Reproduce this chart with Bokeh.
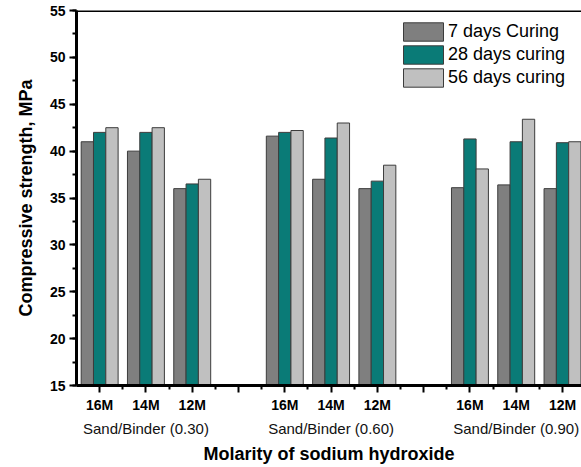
from bokeh.plotting import figure
from bokeh.models import (ColumnDataSource, FixedTicker, SingleIntervalTicker, LinearAxis,
                          Span, Range1d, Legend)
from bokeh.embed import file_html
from bokeh.resources import INLINE

# ---- data ----
molarity = ["16M", "14M", "12M"]
groups = ["Sand/Binder (0.30)", "Sand/Binder (0.60)", "Sand/Binder (0.90)"]
series_names = ["7 days Curing", "28 days curing", "56 days curing"]
days7 = [41.0, 40.0, 36.0, 41.6, 37.0, 36.0, 36.1, 36.4, 36.0]
days28 = [42.0, 42.0, 36.5, 42.0, 41.4, 36.8, 41.3, 41.0, 40.9]
days56 = [42.5, 42.5, 37.0, 42.2, 43.0, 38.5, 38.1, 43.4, 41.0]
colors = ["#7f7f7f", "#0a7b77", "#c0c0c0"]

# category positions: 3 bars per molarity, an empty slot between sand/binder groups
pos = [g * 4 + m + 1 for g in range(len(groups)) for m in range(len(molarity))]
group_pos = [g * 4 + 2 for g in range(len(groups))]

FONT = "Liberation Sans"

p = figure(width=581, height=467, output_backend="svg", toolbar_location=None,
           x_range=Range1d(0.5, 11.41), y_range=Range1d(15, 55),
           min_border_left=76, min_border_right=0, min_border_top=10, min_border_bottom=82,
           x_axis_type=None, y_axis_type=None)
p.outline_line_color = None
p.grid.visible = False
p.background_fill_color = "white"
p.border_fill_color = "white"

bw = 0.266
offsets = [-bw, 0.0, bw]
renderers = []
for vals, off, col, name in zip([days7, days28, days56], offsets, colors, series_names):
    src = ColumnDataSource(dict(x=[x + off for x in pos], top=vals))
    r = p.vbar(x="x", top="top", bottom=15, width=bw, source=src,
               fill_color=col, line_color="#3c3c3c", line_width=1)
    renderers.append((name, [r]))

# y axis
yax = LinearAxis(ticker=SingleIntervalTicker(interval=5, num_minor_ticks=2),
                 axis_label="Compressive strength, MPa")
yax.axis_line_width = 3
yax.major_tick_line_width = 2
yax.major_tick_out = 7
yax.major_tick_in = 0
yax.minor_tick_line_width = 2
yax.minor_tick_out = 4
yax.minor_tick_in = 0
yax.major_label_text_font = FONT
yax.major_label_text_font_style = "bold"
yax.major_label_text_font_size = "14px"
yax.major_label_text_color = "black"
yax.major_label_standoff = 4
yax.axis_label_text_font = FONT
yax.axis_label_text_font_style = "bold"
yax.axis_label_text_font_size = "18px"
yax.axis_label_text_color = "black"
yax.axis_label_standoff = 11
p.add_layout(yax, "left")

# x axis (molarity)
xticks = list(range(1, 12))
overrides = {}
for x in xticks:
    overrides[x] = ""
for x, g in zip(pos, [molarity[i % 3] for i in range(len(pos))]):
    overrides[x] = g
xax = LinearAxis(ticker=FixedTicker(ticks=xticks, minor_ticks=[x + 0.5 for x in range(1, 11)]),
                 major_label_overrides=overrides)
xax.axis_line_width = 3
xax.major_tick_line_width = 2
xax.major_tick_out = 7
xax.major_tick_in = 0
xax.minor_tick_line_width = 2
xax.minor_tick_out = 4
xax.minor_tick_in = 0
xax.major_label_text_font = FONT
xax.major_label_text_font_style = "bold"
xax.major_label_text_font_size = "14px"
xax.major_label_text_color = "black"
xax.major_label_standoff = 4
p.add_layout(xax, "below")

# group axis (sand/binder)
gax = LinearAxis(ticker=FixedTicker(ticks=group_pos),
                 major_label_overrides={x: g for x, g in zip(group_pos, groups)},
                 axis_label="Molarity of sodium hydroxide")
gax.axis_line_color = None
gax.major_tick_line_color = None
gax.minor_tick_line_color = None
gax.major_tick_out = 0
gax.major_tick_in = 0
gax.major_label_text_font = FONT
gax.major_label_text_font_size = "15px"
gax.major_label_text_color = "#111111"
gax.major_label_standoff = 4
gax.axis_label_text_font = FONT
gax.axis_label_text_font_style = "bold"
gax.axis_label_text_font_size = "18px"
gax.axis_label_text_color = "black"
gax.axis_label_standoff = 4
p.add_layout(gax, "below")

# top border
p.add_layout(Span(location=55, dimension="width", line_color="black", line_width=3))

legend = Legend(items=renderers, location=(322, 296))
legend.glyph_width = 50
legend.glyph_height = 23
legend.label_height = 23
legend.spacing = 0
legend.padding = 0
legend.margin = 0
legend.label_standoff = 0
legend.border_line_color = None
legend.background_fill_alpha = 0
legend.label_text_font = FONT
legend.label_text_font_size = "18px"
legend.label_text_color = "black"
p.add_layout(legend, "center")

open("out.html", "w").write(file_html(p, INLINE))
